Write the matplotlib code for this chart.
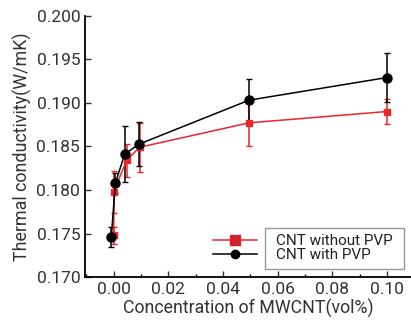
import matplotlib
matplotlib.use("Agg")
import matplotlib.pyplot as plt
from matplotlib.patches import Rectangle
from matplotlib.lines import Line2D

plt.rcParams['font.family'] = ['Roboto', 'DejaVu Sans']

# concentration of MWCNT (vol%)
x_pvp = [-0.0009, 0.0006, 0.004, 0.0092, 0.0495, 0.100]
k_pvp = [0.1746, 0.1808, 0.1841, 0.18525, 0.1903, 0.1929]
err_pvp = [0.0012, 0.0011, 0.0032, 0.0025, 0.0024, 0.0028]

x_no = [0.0, 0.0, 0.0047, 0.0095, 0.0495, 0.100]
k_no = [0.1748, 0.1798, 0.1834, 0.1849, 0.1877, 0.1890]
err_no = [0.0010, 0.0024, 0.0019, 0.0028, 0.0027, 0.0014]

red = '#e8262c'

fig = plt.figure(figsize=(4.11, 3.26), dpi=100)
ax = fig.add_axes([0.207, 0.150, 0.793, 0.802])

ax.errorbar(x_no, k_no, yerr=err_no, color=red, lw=1.1, marker='s', ms=5,
            mfc=red, mec=red, capsize=2.5, elinewidth=1.1)
ax.errorbar(x_pvp, k_pvp, yerr=err_pvp, color='black', lw=1.1, marker='o', ms=6.5,
            capsize=2.5, elinewidth=1.1)

ax.set_xlim(-0.0105, 0.1088)
ax.set_ylim(0.170, 0.200)
ax.set_xticks([0.00, 0.02, 0.04, 0.06, 0.08, 0.10])
ax.set_xticks([-0.01, 0.01, 0.03, 0.05, 0.07, 0.09], minor=True)
ax.set_yticks([0.170, 0.175, 0.180, 0.185, 0.190, 0.195, 0.200])
ax.xaxis.set_major_formatter(matplotlib.ticker.FormatStrFormatter('%.2f'))
ax.yaxis.set_major_formatter(matplotlib.ticker.FormatStrFormatter('%.3f'))
ax.tick_params(direction='in', labelsize=12.5, color='#333333', labelcolor='#333333', length=4, width=1)
ax.tick_params(which='minor', direction='in', length=2.5, width=1)
ax.spines['top'].set_visible(False)
ax.spines['right'].set_visible(False)
for s in ('left', 'bottom'):
    ax.spines[s].set_linewidth(1.3)

ax.set_xlabel('Concentration of MWCNT(vol%)', fontsize=12.8, color='#333333', labelpad=1)
ax.set_ylabel('Thermal conductivity(W/mK)', fontsize=12.9, color='#333333', labelpad=3)

ax.add_patch(Rectangle((0.552, 0.031), 0.426, 0.157, transform=ax.transAxes,
                       fill=False, ec='#999999', lw=1, zorder=1))
handles = [Line2D([], [], color=red, lw=1.1, marker='s', ms=7, mfc='#d42027', mec='#d42027'),
           Line2D([], [], color='black', lw=1.1, marker='o', ms=6)]
ax.legend(handles, ['CNT without PVP', 'CNT with PVP'], loc='lower left',
          bbox_to_anchor=(0.355, 0.01), frameon=False,
          fontsize=11, handlelength=2.9, handletextpad=1.2, labelspacing=0.0,
          borderpad=0.3, labelcolor='#222222')

fig.savefig('out.png', dpi=100)
